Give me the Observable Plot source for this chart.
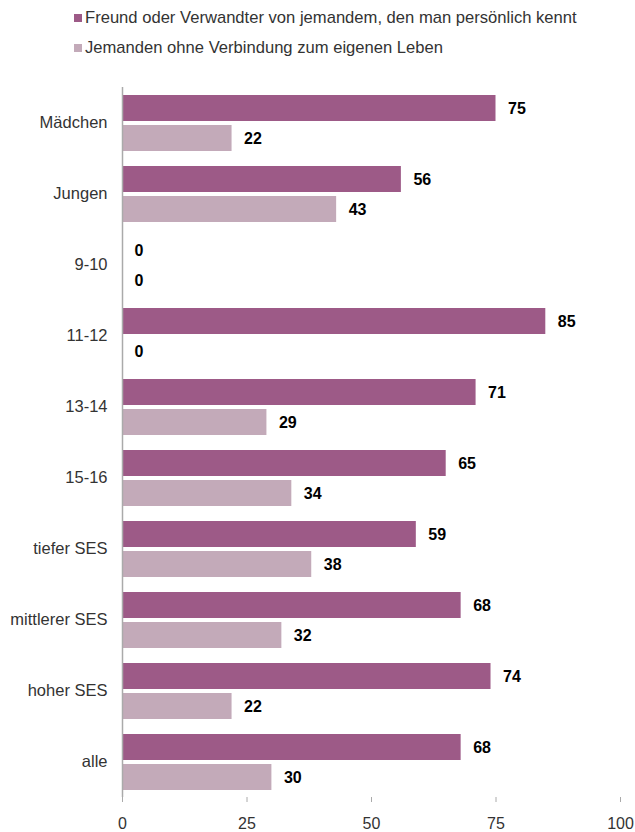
<!DOCTYPE html>
<html><head><meta charset="utf-8">
<script src="https://cdn.jsdelivr.net/npm/d3@7"></script>
<script src="https://cdn.jsdelivr.net/npm/@observablehq/plot@0.6"></script>
<style>
body{margin:0;background:#fff;font-family:"Liberation Sans",Arial,sans-serif;}
#legend{height:66px;position:relative;}
.item{position:absolute;left:74px;font-size:16.6px;line-height:18px;color:#333;display:flex;align-items:center;}
.sw{width:8px;height:8px;margin-right:3px;}
</style></head><body>
<div id="legend"></div><div id="chart"></div>
<script>
const categories = ["Mädchen","Jungen","9-10","11-12","13-14","15-16","tiefer SES","mittlerer SES","hoher SES","alle"];
const seriesNames = ["Freund oder Verwandter von jemandem, den man persönlich kennt","Jemanden ohne Verbindung zum eigenen Leben"];
const friendValues = [75,56,0,85,71,65,59,68,74,68];
const strangerValues = [22,43,0,0,29,34,38,32,22,30];
const seriesColors = ["#9d5a87","#c3aab9"];
const xTicks = [0,25,50,75,100];

const rows = [];
categories.forEach((c,i)=>{
  rows.push({category:c, series:seriesNames[0], value:friendValues[i]});
  rows.push({category:c, series:seriesNames[1], value:strangerValues[i]});
});

const legend = document.getElementById("legend");
seriesNames.forEach((s,i)=>{
  const d = document.createElement("div");
  d.className="item";
  d.style.top = (9 + i*30) + "px";
  d.innerHTML = `<span class="sw" style="background:${seriesColors[i]}"></span><span>${s}</span>`;
  legend.appendChild(d);
});

const chart = Plot.plot({
  width:635, height:766,
  marginTop:16, marginBottom:31, marginLeft:122, marginRight:15,
  style:{fontFamily:"Liberation Sans, Arial, sans-serif", fontSize:"16px", color:"#333", background:"#fff", overflow:"visible"},
  x:{domain:[0,100], label:null},
  y:{domain:seriesNames, paddingInner:0.15, paddingOuter:0.25, axis:null},
  fy:{domain:categories, padding:0, label:null},
  color:{domain:seriesNames, range:seriesColors},
  marks:[
    Plot.barX(rows,{fy:"category", y:"series", x:"value", fill:"series"}),
    Plot.ruleX([0],{stroke:"#aaa", strokeWidth:1.5}),
    Plot.text(rows,{fy:"category", y:"series", x:"value", text:d=>String(d.value), textAnchor:"start", dx:12, fontWeight:"bold", fill:"#000", fontSize:16}),
    Plot.axisX({ticks:xTicks, tickSize:5, line:true, stroke:"#aaa", fill:"#333", tickPadding:15, fontSize:16, label:null}),
    Plot.axisFy({anchor:"left", tickSize:0, tickPadding:15, fontSize:16.5, fill:"#333", label:null})
  ]
});
document.getElementById("chart").appendChild(chart);
</script>
</body></html>
